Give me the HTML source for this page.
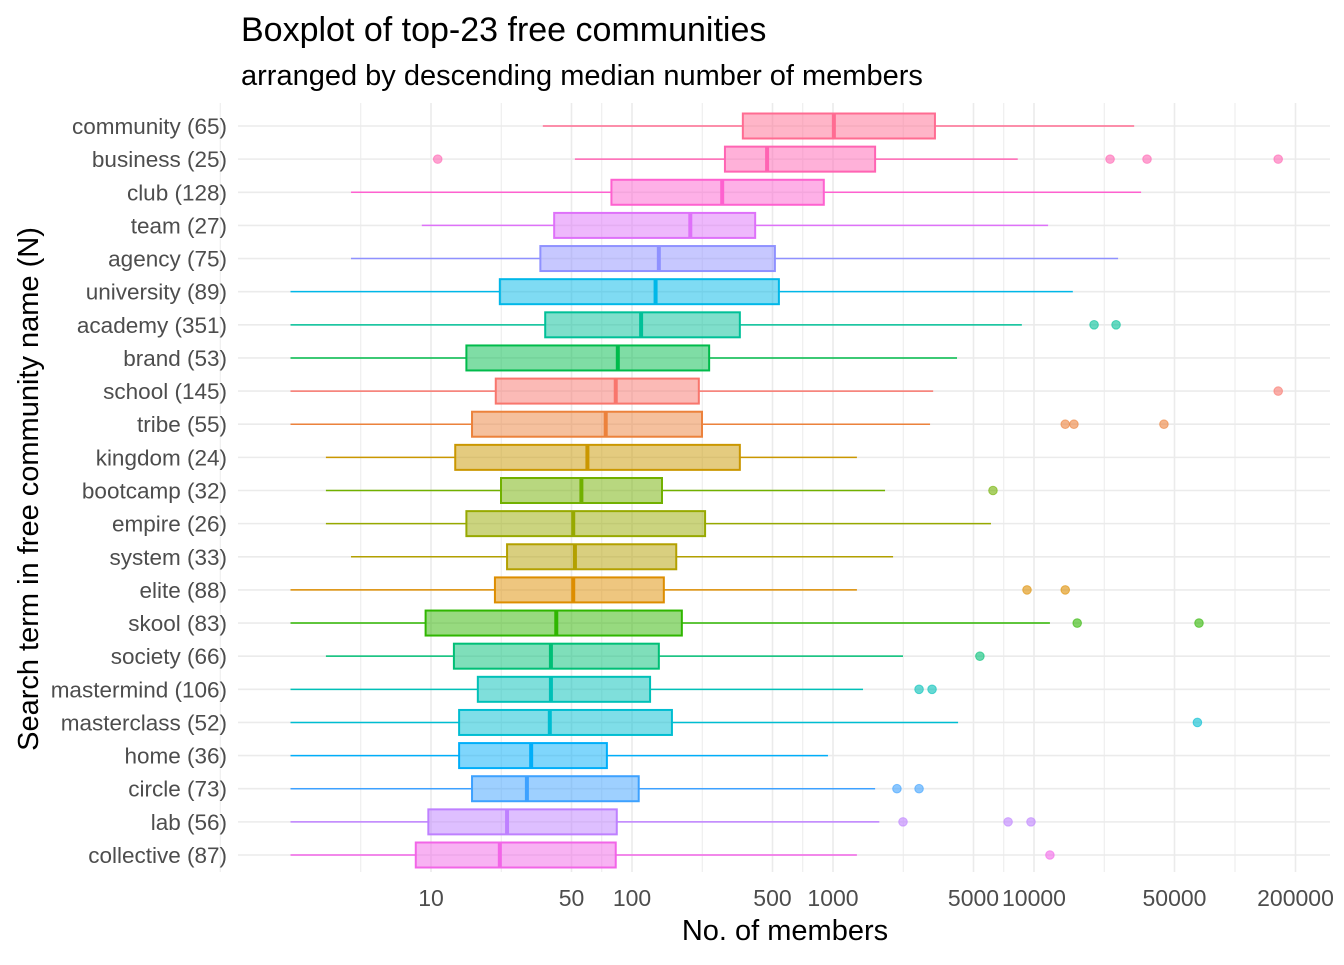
<!DOCTYPE html>
<html><head><meta charset="utf-8"><style>
body{margin:0;background:#fff;}
svg text{font-family:"Liberation Sans",sans-serif;}
</style></head><body>
<svg id="chart" width="1344" height="960" xmlns="http://www.w3.org/2000/svg">
<text x="241" y="41" font-size="34" fill="#000">Boxplot of top-23 free communities</text>
<text x="241" y="85" font-size="29" fill="#000">arranged by descending median number of members</text>
<text x="785" y="940" font-size="29" text-anchor="middle" fill="#000">No. of members</text>
<text transform="translate(38,489) rotate(-90)" font-size="29" text-anchor="middle" fill="#000">Search term in free community name (N)</text>
<g id="grid"></g><g id="marks"></g><g id="labels"></g>
</svg>
<script>
const categories=["community (65)","business (25)","club (128)","team (27)","agency (75)","university (89)","academy (351)","brand (53)","school (145)","tribe (55)","kingdom (24)","bootcamp (32)","empire (26)","system (33)","elite (88)","skool (83)","society (66)","mastermind (106)","masterclass (52)","home (36)","circle (73)","lab (56)","collective (87)"];
const whiskerLow=[36,52,4,9,4,2,2,2,2,2,3,3,3,4,2,2,3,2,2,2,2,2,2];
const q1=[356,290,79,41,35,22,37,15,21,16,13.2,22.3,15,23.9,20.8,9.4,13,17.1,13.8,13.8,16,9.7,8.4];
const median=[1010,470,281,195,136,131,111,85,83,74,60,56,51,52,51,42,39.5,39.5,39,31.5,30,23.9,22];
const q3=[3215,1620,900,410,514,538,344,242,215,223,344,141,231,166,144,177,136,123,158,75,108,84,83];
const whiskerHigh=[31500,8300,34100,11750,26200,15600,8700,4140,3150,3040,1315,1815,6110,1990,1315,12000,2230,1410,4190,944,1620,1700,1315];
const outliers=[[],[10.8,23900,36500,164000],[],[],[],[],[19900,25600],[],[164000],[14300,15800,44300],[],[6250],[],[],[9230,14300],[16400,66200],[5380],[2680,3110],[65000],[],[2080,2680],[2230,7430,9660],[12000]];
const hueIndex=[22,21,20,18,16,13,10,8,0,1,3,6,5,4,2,7,9,11,12,14,15,17,19];
const tickValues=[10,50,100,500,1000,5000,10000,50000,200000];
const tickLabels=["10","50","100","500","1000","5000","10000","50000","200000"];

const NS="http://www.w3.org/2000/svg";
function xs(v){return 431+(Math.log10(v)-1)*201;}
function ys(i){return 126+i*(855-126)/22;}
function hcl(h,c,l){
  const hr=h*Math.PI/180,u=c*Math.cos(hr),v=c*Math.sin(hr);
  const Xn=95.047,Yn=100,Zn=108.883;
  const un=4*Xn/(Xn+15*Yn+3*Zn),vn=9*Yn/(Xn+15*Yn+3*Zn);
  const Y=l>8?Yn*Math.pow((l+16)/116,3):Yn*l/903.3;
  const up=u/(13*l)+un,vp=v/(13*l)+vn;
  const X=Y*9*up/(4*vp),Z=Y*(12-3*up-20*vp)/(4*vp);
  const x=X/100,y=Y/100,z=Z/100;
  let r=3.2406*x-1.5372*y-0.4986*z,g=-0.9689*x+1.8758*y+0.0415*z,b=0.0557*x-0.2040*y+1.0570*z;
  const f=t=>{t=t<=0.0031308?12.92*t:1.055*Math.pow(t,1/2.4)-0.055;return Math.round(Math.max(0,Math.min(1,t))*255);};
  return `rgb(${f(r)},${f(g)},${f(b)})`;
}
function mk(tag,attrs,parent){const e=document.createElementNS(NS,tag);for(const k in attrs)e.setAttribute(k,attrs[k]);parent.appendChild(e);return e;}
const grid=document.getElementById('grid'),marks=document.getElementById('marks'),labels=document.getElementById('labels');
const lt=tickValues.map(v=>Math.log10(v));
const minor=[lt[0]-1.5*(lt[1]-lt[0]),lt[0]-0.5*(lt[1]-lt[0])];
for(let i=0;i<lt.length-1;i++)minor.push((lt[i]+lt[i+1])/2);
minor.forEach(m=>{const x=xs(Math.pow(10,m));
  const l=mk('line',{x1:x,x2:x,y1:103,y2:872,stroke:'#ebebeb','stroke-width':1},grid);
  
  });
tickValues.forEach((v,i)=>{const x=xs(v);
  const l=mk('line',{x1:x,x2:x,y1:103,y2:872,stroke:'#ebebeb','stroke-width':1.6},grid);
  
  
  const t=mk('text',{x:x,y:906,'font-size':23,'text-anchor':'middle',fill:'#4d4d4d'},labels);
  t.textContent=tickLabels[i];
  
  });
categories.forEach((c,i)=>{const y=ys(i);
  const l=mk('line',{x1:238,x2:1330,y1:y,y2:y,stroke:'#ebebeb','stroke-width':1.6},grid);
  
  
  const t=mk('text',{x:227,y:y+8,'font-size':22.5,'text-anchor':'end',fill:'#4d4d4d'},labels);
  t.textContent=c;
  
  
  const col=hcl(15+hueIndex[i]*360/23,100,65);
  const g=mk('g',{},marks);
  
  
  const w1=mk('line',{x1:xs(whiskerLow[i]),x2:xs(q1[i]),y1:y,y2:y,stroke:col,'stroke-width':1.5},g);
  
  
  const w2=mk('line',{x1:xs(q3[i]),x2:xs(whiskerHigh[i]),y1:y,y2:y,stroke:col,'stroke-width':1.5},g);
  
  
  const r=mk('rect',{x:xs(q1[i]),y:y-12.5,width:xs(q3[i])-xs(q1[i]),height:25,fill:col,'fill-opacity':0.5,stroke:col,'stroke-width':2},g);
  
  
  const m=mk('line',{x1:xs(median[i]),x2:xs(median[i]),y1:y-12.5,y2:y+12.5,stroke:col,'stroke-width':4},g);
  
  
  outliers[i].forEach(o=>{
    const p=mk('circle',{cx:xs(o),cy:y,r:4.3,fill:col,'fill-opacity':0.6,stroke:col,'stroke-opacity':0.6},g);
    
    });
});
</script>
</body></html>
